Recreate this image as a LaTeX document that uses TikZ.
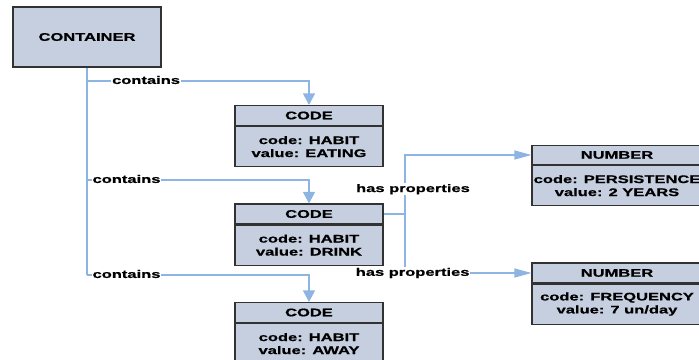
\documentclass[tikz,border=0pt]{standalone}
\usepackage{fontspec}
\setmainfont{Liberation Sans}[FakeStretch=1.5,BoldFeatures={FakeBold=0.8}]
\definecolor{boxfill}{RGB}{197,207,224}
\definecolor{boxedge}{RGB}{50,50,50}
\definecolor{linkblue}{RGB}{142,180,227}
\usetikzlibrary{arrows.meta,positioning}

\begin{document}
\begin{tikzpicture}[x=1pt,y=-1pt,
  box/.style={draw=boxedge,fill=boxfill,line width=1.1pt,inner sep=0pt,align=center,font=\fontsize{11}{13}\selectfont\bfseries},
  hdr/.style={box,minimum height=20pt},
  bdy/.style={box,minimum height=40pt},
  link/.style={draw=linkblue,line width=1.2pt},
  downarr/.style={link,-{Triangle[length=11.5pt,width=12pt]}},
  sidearr/.style={link,-{Triangle[length=17pt,width=9pt]}},
  lbl/.style={fill=white,inner sep=1pt,font=\fontsize{11}{13}\selectfont\bfseries}]
  \useasboundingbox (0,0) rectangle (699,359);
  % container
  \node[box,minimum width=148pt,minimum height=60pt] (cont) at (87,37) {CONTAINER};
  % habit codes
  \node[hdr,minimum width=148pt] (code1h) at (309,115.5) {CODE};
  \node[bdy,minimum width=148pt,below=0pt of code1h] (code1b) {code: HABIT\\value: EATING};
  \node[hdr,minimum width=148pt] (code2h) at (309,214) {CODE};
  \node[bdy,minimum width=148pt,below=0pt of code2h] (code2b) {code: HABIT\\value: DRINK};
  \node[hdr,minimum width=148pt] (code3h) at (309,312.5) {CODE};
  \node[bdy,minimum width=148pt,below=0pt of code3h] (code3b) {code: HABIT\\value: AWAY};
  % numbers
  \node[hdr,minimum width=170pt,minimum height=19pt] (num1h) at (617,155) {NUMBER};
  \node[bdy,minimum width=170pt,below=0pt of num1h] (num1b) {code: PERSISTENCE\\value: 2 YEARS};
  \node[hdr,minimum width=170pt] (num2h) at (617,273) {NUMBER};
  \node[bdy,minimum width=170pt,below=0pt of num2h] (num2b) {code: FREQUENCY\\value: 7 un/day};
  % contains
  \coordinate (j1) at (87,81);
  \coordinate (j2) at (87,180);
  \coordinate (j3) at (87,275);
  \draw[link] (cont) -- (j3);
  \draw[downarr] (j1) -| node[lbl,pos=0.133,yshift=1pt] {contains} (code1h);
  \draw[downarr] (j2) -| node[lbl,pos=0.089,yshift=1pt] {contains} (code2h);
  \draw[downarr] (j3) -| node[lbl,pos=0.089,yshift=1pt] {contains} (code3h);
  % has properties
  \coordinate (fork) at (405,214);
  \draw[sidearr] (code2h) -- (fork) |- node[lbl,pos=0.21,xshift=8pt] {has properties} (num1h);
  \draw[sidearr] (code2h) -- (fork) |- node[lbl,pos=0.53] {has properties} (num2h);
\end{tikzpicture}
\end{document}
